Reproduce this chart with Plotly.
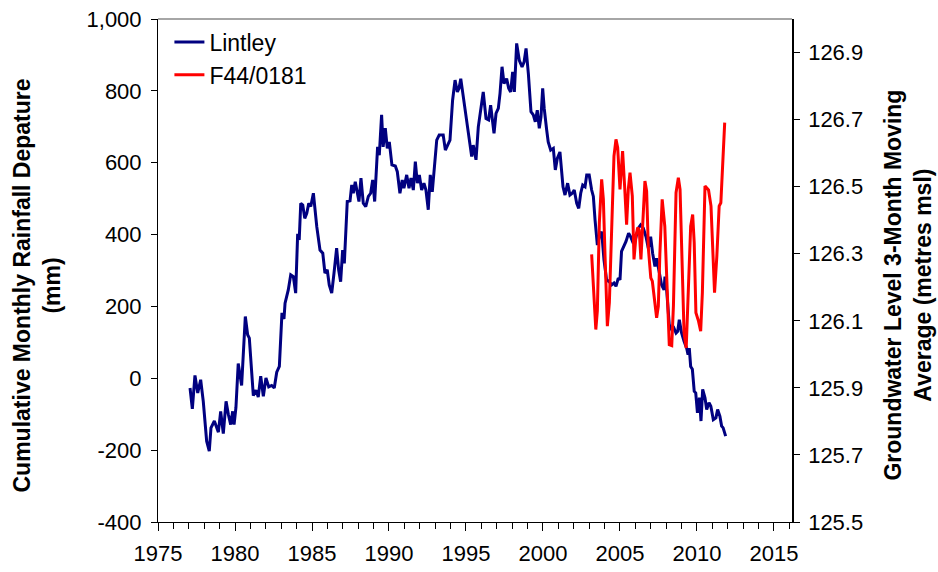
import plotly.graph_objects as go

# Lintley cumulative monthly rainfall departure (mm), decimal year
lintley_year = [
    1977.08, 1977.23, 1977.40, 1977.58, 1977.77, 1977.94, 1978.16, 1978.33, 1978.44, 1978.66,
    1978.92, 1979.07, 1979.24, 1979.42, 1979.57, 1979.72, 1979.85, 1979.94, 1980.06, 1980.21,
    1980.43, 1980.67, 1980.82, 1980.93, 1981.19, 1981.36, 1981.51, 1981.67, 1981.84, 1982.01,
    1982.19, 1982.38, 1982.55, 1982.71, 1982.88, 1983.05, 1983.18, 1983.25, 1983.46, 1983.62,
    1983.79, 1983.94, 1984.07, 1984.17, 1984.27, 1984.40, 1984.53, 1984.66, 1984.79, 1984.92,
    1985.09, 1985.31, 1985.52, 1985.70, 1985.84, 1985.99, 1986.12, 1986.28, 1986.43, 1986.60,
    1986.73, 1986.86, 1986.99, 1987.10, 1987.29, 1987.47, 1987.58, 1987.68, 1987.81, 1987.94,
    1988.05, 1988.18, 1988.33, 1988.49, 1988.66, 1988.81, 1988.94, 1989.07, 1989.26, 1989.37,
    1989.52, 1989.62, 1989.76, 1989.89, 1990.02, 1990.19, 1990.41, 1990.54, 1990.71, 1990.86,
    1990.97, 1991.15, 1991.30, 1991.43, 1991.58, 1991.71, 1991.84, 1991.97, 1992.12, 1992.27,
    1992.40, 1992.55, 1992.68, 1992.81, 1992.94, 1993.10, 1993.26, 1993.52, 1993.66, 1993.81,
    1993.96, 1994.13, 1994.29, 1994.44, 1994.55, 1994.66, 1994.79, 1994.94, 1995.08, 1995.26,
    1995.37, 1995.47, 1995.65, 1995.80, 1995.95, 1996.12, 1996.30, 1996.47, 1996.60, 1996.71,
    1996.82, 1996.95, 1997.10, 1997.21, 1997.34, 1997.47, 1997.64, 1997.77, 1997.90, 1998.03,
    1998.14, 1998.29, 1998.46, 1998.64, 1998.77, 1998.90, 1999.05, 1999.22, 1999.37, 1999.50,
    1999.63, 1999.76, 1999.87, 1999.98, 2000.08, 2000.24, 2000.34, 2000.50, 2000.67, 2000.80,
    2000.93, 2001.10, 2001.30, 2001.43, 2001.60, 2001.75, 2001.90, 2002.03, 2002.19, 2002.32,
    2002.45, 2002.58, 2002.73, 2002.84, 2003.00, 2003.16, 2003.27, 2003.38, 2003.53, 2003.66,
    2003.81, 2003.96, 2004.13, 2004.30, 2004.46, 2004.61, 2004.74, 2004.89, 2005.00, 2005.10,
    2005.26, 2005.39, 2005.56, 2005.69, 2005.86, 2006.02, 2006.19, 2006.34, 2006.51, 2006.69,
    2006.84, 2006.99, 2007.12, 2007.27, 2007.38, 2007.55, 2007.70, 2007.86, 2007.92, 2008.03,
    2008.20, 2008.36, 2008.50, 2008.64, 2008.75, 2008.85, 2009.00, 2009.16, 2009.33, 2009.42,
    2009.50, 2009.59, 2009.70, 2009.82, 2009.92, 2010.03, 2010.16, 2010.26, 2010.37, 2010.52,
    2010.63, 2010.78, 2010.90, 2011.06, 2011.23, 2011.34, 2011.49, 2011.60, 2011.70, 2011.86,
]
lintley_mm = [
    -27, -85, 8, -41, -4, -64, -175, -203, -138, -119,
    -150, -92, -154, -64, -101, -129, -92, -129, -82, 41,
    -20, 172, 121, 112, -48, -33, -52, 6, -50, 1,
    -24, -20, -27, 17, 33, 182, 165, 209, 246, 288,
    283, 237, 402, 385, 487, 482, 445, 459, 487, 478,
    515, 422, 357, 348, 293, 302, 260, 237, 293, 362,
    302, 269, 357, 320, 492, 494, 538, 515, 547, 519,
    492, 557, 487, 478, 506, 515, 552, 492, 644, 621,
    733, 644, 696, 640, 658, 594, 591, 575, 515, 552,
    529, 566, 529, 557, 524, 603, 543, 566, 524, 543,
    524, 469, 566, 519, 589, 663, 677, 677, 635, 649,
    663, 774, 830, 797, 807, 834, 793, 756, 705, 660,
    617, 649, 608, 700, 751, 797, 723, 719, 760, 728,
    682, 737, 751, 793, 867, 820, 834, 807, 797, 853,
    797, 932, 885, 867, 880, 918, 848, 742, 733, 714,
    746, 696, 728, 807, 751, 691, 658, 635, 640, 580,
    612, 630, 533, 510, 543, 510, 515, 524, 487, 473,
    515, 538, 533, 566, 566, 524, 506, 441, 371, 394,
    408, 330, 274, 269, 260, 265, 256, 279, 274, 353,
    367, 381, 404, 394, 376, 390, 418, 427, 418, 394,
    362, 394, 348, 311, 334, 293, 260, 246, 283, 246,
    149, 135, 140, 126, 131, 163, 126, 103, 84, 66,
    84, 33, 25, -36, -41, -96, -54, -119, -31, -54,
    -87, -68, -78, -115, -110, -87, -106, -133, -138, -161,
]

# Bore F44/0181 groundwater level, 3-month moving average (m msl)
bore_year = [
    2003.16, 2003.27, 2003.43, 2003.53, 2003.66, 2003.81, 2003.92, 2004.03, 2004.18, 2004.31,
    2004.46, 2004.61, 2004.74, 2004.85, 2005.00, 2005.17, 2005.30, 2005.43, 2005.54, 2005.65,
    2005.80, 2005.91, 2006.04, 2006.15, 2006.25, 2006.36, 2006.47, 2006.62, 2006.73, 2006.84,
    2007.00, 2007.10, 2007.38, 2007.49, 2007.59, 2007.74, 2007.91, 2008.06, 2008.20, 2008.36,
    2008.47, 2008.64, 2008.79, 2008.90, 2009.01, 2009.16, 2009.30, 2009.45, 2009.59, 2009.72,
    2009.82, 2009.93, 2010.10, 2010.24, 2010.35, 2010.52, 2010.63, 2010.75, 2010.91, 2011.02,
    2011.14, 2011.29, 2011.44, 2011.55, 2011.70, 2011.80,
]
bore_level = [
    126.298, 126.203, 126.074, 126.130, 126.393, 126.522, 126.462, 126.293, 126.084, 126.154,
    126.343, 126.591, 126.641, 126.616, 126.492, 126.606, 126.502, 126.387, 126.492, 126.542,
    126.472, 126.283, 126.353, 126.378, 126.370, 126.283, 126.382, 126.517, 126.487, 126.318,
    126.228, 126.218, 126.109, 126.144, 126.300, 126.462, 126.382, 126.190, 126.029, 126.026,
    126.144, 126.482, 126.527, 126.492, 126.313, 126.064, 126.019, 126.203, 126.382, 126.417,
    126.333, 126.124, 126.099, 126.069, 126.184, 126.502, 126.497, 126.490, 126.442, 126.313,
    126.184, 126.293, 126.442, 126.452, 126.582, 126.691,
]

# Axis ticks
year_ticks = [1975, 1980, 1985, 1990, 1995, 2000, 2005, 2010, 2015]
mm_ticks = [-400, -200, 0, 200, 400, 600, 800, 1000]
mm_labels = ["-400", "-200", "0", "200", "400", "600", "800", "1,000"]
level_ticks = [125.5, 125.7, 125.9, 126.1, 126.3, 126.5, 126.7, 126.9]

FONT = "Liberation Sans, Arial, sans-serif"
NAVY = "#000080"
RED = "#FF0000"
X_RANGE = [1975, 2016.17]
MM_RANGE = [-400, 1000]
LEVEL_RANGE = [125.5, 127.0]

fig = go.Figure()
fig.add_trace(go.Scatter(
    x=lintley_year, y=lintley_mm, name="Lintley", mode="lines",
    line=dict(color=NAVY, width=3), yaxis="y",
))
fig.add_trace(go.Scatter(
    x=bore_year, y=bore_level, name="F44/0181", mode="lines",
    line=dict(color=RED, width=3), yaxis="y2",
))

tick_font = dict(family=FONT, size=22, color="black")

fig.update_layout(
    width=938, height=572,
    margin=dict(l=158, r=146, t=19, b=50, autoexpand=False),
    paper_bgcolor="white", plot_bgcolor="white",
    font=dict(family=FONT, color="black"),
    showlegend=True,
    legend=dict(
        x=0.018, y=0.997, xanchor="left", yanchor="top",
        bgcolor="rgba(0,0,0,0)", font=dict(family=FONT, size=23, color="black"),
        tracegroupgap=0, itemwidth=30,
    ),
    xaxis=dict(
        range=X_RANGE, tickmode="array", tickvals=year_ticks,
        ticks="outside", ticklen=8, tickwidth=1, tickcolor="black",
        ticklabelstandoff=4, automargin=False,
        showline=True, linecolor="black", linewidth=1,
        showgrid=False, zeroline=False, tickfont=tick_font,
        minor=dict(tick0=1975, dtick=1, ticks="outside", ticklen=6,
                   tickcolor="black", showgrid=False),
    ),
    # companion axis drawing the inner half of the crossing year ticks
    xaxis2=dict(
        range=X_RANGE, overlaying="x", anchor="y", side="bottom",
        tickmode="array", tickvals=year_ticks, ticks="inside", ticklen=6,
        tickwidth=1, tickcolor="black", showticklabels=False, automargin=False,
        showline=False, showgrid=False, zeroline=False,
    ),
    yaxis=dict(
        range=MM_RANGE, tickmode="array", tickvals=mm_ticks, ticktext=mm_labels,
        ticks="outside", ticklen=6, tickwidth=1, tickcolor="black",
        ticklabelstandoff=5, automargin=False,
        showline=True, linecolor="black", linewidth=1,
        showgrid=False, zeroline=False, tickfont=tick_font,
    ),
    yaxis2=dict(
        range=LEVEL_RANGE, overlaying="y", side="right", anchor="x",
        tickmode="array", tickvals=level_ticks, tickformat=".1f",
        ticks="outside", ticklen=6, tickwidth=1, tickcolor="black",
        ticklabelstandoff=4, automargin=False,
        showline=True, linecolor="black", linewidth=1.5,
        showgrid=False, zeroline=False, tickfont=tick_font,
    ),
    # companion axis drawing the inner half of the crossing level ticks
    yaxis3=dict(
        range=LEVEL_RANGE, overlaying="y", side="right", anchor="x",
        tickmode="array", tickvals=level_ticks, ticks="inside", ticklen=6,
        tickwidth=1, tickcolor="black", showticklabels=False, automargin=False,
        showline=False, showgrid=False, zeroline=False,
    ),
)

# Plot-area top border
fig.add_shape(type="line", xref="paper", yref="paper", x0=0, x1=1, y0=1, y1=1,
              line=dict(color="#A6A6A6", width=2))

title_font = dict(family=FONT, size=23, color="black")
fig.add_annotation(
    text="<b>Cumulative Monthly Rainfall Depature<br>(mm)</b>",
    xref="paper", yref="paper", x=-0.191, y=0.47, textangle=-90,
    xanchor="center", yanchor="middle", showarrow=False, font=title_font,
)
fig.add_annotation(
    text="<b>Groundwater Level 3-Month Moving<br>Average (metres msl)</b>",
    xref="paper", yref="paper", x=1.183, y=0.47, textangle=-90,
    xanchor="center", yanchor="middle", showarrow=False, font=title_font,
)

fig.write_html("out.html")
